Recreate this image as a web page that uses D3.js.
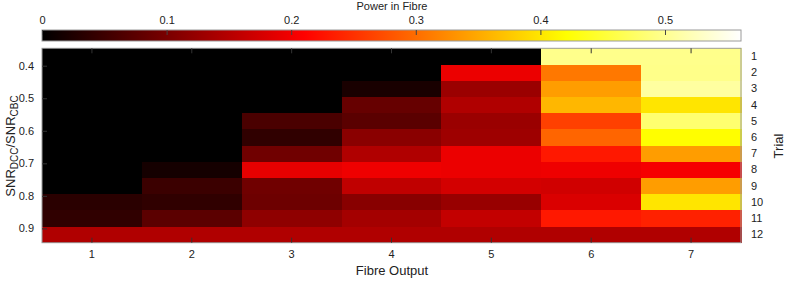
<!DOCTYPE html>
<html>
<head>
<meta charset="utf-8">
<script src="https://cdn.jsdelivr.net/npm/d3@7"></script>
<style>
  body { margin: 0; background: #fff; }
  svg text { font-family: "Liberation Sans", Arial, sans-serif; fill: #222; }
</style>
</head>
<body>
<svg id="heatmap" width="789" height="281"></svg>
<script>
// fibre outputs along x, trials along y
const fibres = [1, 2, 3, 4, 5, 6, 7];
const trials = [1, 2, 3, 4, 5, 6, 7, 8, 9, 10, 11, 12];
const snrTicks = [0.4, 0.5, 0.6, 0.7, 0.8, 0.9];
const snrDomain = [0.3465, 0.944];
const powerTicks = [0, 0.1, 0.2, 0.3, 0.4, 0.5];
const powerMax = 0.561;

// power in each fibre, one row per trial
const trial1 = [0, 0, 0, 0, 0, 0.497, 0.497];
const trial2 = [0, 0, 0, 0, 0.195, 0.309, 0.496];
const trial3 = [0, 0, 0, 0.021, 0.128, 0.34, 0.509];
const trial4 = [0, 0, 0, 0.084, 0.145, 0.361, 0.399];
const trial5 = [0, 0, 0.061, 0.074, 0.127, 0.263, 0.482];
const trial6 = [0, 0, 0.04, 0.114, 0.13, 0.294, 0.42];
const trial7 = [0, 0, 0.092, 0.145, 0.195, 0.23, 0.34];
const trial8 = [0, 0.017, 0.19, 0.197, 0.195, 0.197, 0.203];
const trial9 = [0, 0.049, 0.092, 0.158, 0.174, 0.172, 0.34];
const trial10 = [0.035, 0.04, 0.09, 0.112, 0.125, 0.18, 0.399];
const trial11 = [0.04, 0.075, 0.118, 0.135, 0.161, 0.23, 0.238];
const trial12 = [0.145, 0.145, 0.145, 0.145, 0.145, 0.145, 0.145];
const powers = [trial1, trial2, trial3, trial4, trial5, trial6, trial7, trial8, trial9, trial10, trial11, trial12];

const cells = [];
powers.forEach((row, i) => row.forEach((v, j) => cells.push({ trial: trials[i], fibre: fibres[j], value: v })));

const plot = { left: 42, right: 741, top: 48.3, bottom: 242.7 };
const bar = { top: 30, bottom: 41 };
const svg = d3.select('svg#heatmap');

// matlab "hot" colormap
const hot = d3.scaleLinear()
    .domain([0, 0.375 * powerMax, 0.75 * powerMax, powerMax])
    .range(['#000000', '#ff0000', '#ffff00', '#ffffff'])
    .clamp(true);

const xScale = d3.scaleBand()
    .domain(fibres)
    .range([plot.left, plot.right]);

const yScale = d3.scaleBand()
    .domain(trials)
    .range([plot.top, plot.bottom]);

const snrScale = d3.scaleLinear()
    .domain(snrDomain)
    .range([plot.top, plot.bottom]);

const powerScale = d3.scaleLinear()
    .domain([0, powerMax])
    .range([plot.left, plot.right]);

// cells
svg.append('g')
    .selectAll('rect')
    .data(cells)
    .enter()
    .append('rect')
    .attr('x', d => xScale(d.fibre))
    .attr('y', d => yScale(d.trial))
    .attr('width', xScale.bandwidth() + 0.5)
    .attr('height', yScale.bandwidth() + 0.5)
    .attr('fill', d => hot(d.value))
    .attr('shape-rendering', 'crispEdges');

svg.append('rect')
    .attr('x', plot.left)
    .attr('y', plot.top)
    .attr('width', plot.right - plot.left)
    .attr('height', plot.bottom - plot.top)
    .attr('fill', 'none')
    .attr('stroke', '#9a9a9a');

// bottom axis with ticks pointing into the plot
const xAxis = svg.append('g')
    .attr('transform', `translate(0, ${plot.bottom})`)
    .call(d3.axisBottom(xScale).tickSizeInner(-5).tickSizeOuter(0).tickPadding(8))
    .call(g => g.select('.domain').remove());
xAxis.selectAll('line').attr('stroke', '#333');
xAxis.selectAll('text').style('font-size', '11px');

svg.append('g')
    .attr('transform', `translate(0, ${plot.top})`)
    .call(d3.axisTop(xScale).tickSizeInner(-5).tickSizeOuter(0).tickFormat(''))
    .call(g => g.select('.domain').remove())
    .selectAll('line').attr('stroke', '#333');

// left snr axis
const yAxis = svg.append('g')
    .attr('transform', `translate(${plot.left}, 0)`)
    .call(d3.axisLeft(snrScale).tickValues(snrTicks).tickFormat(d3.format('.1f')).tickSizeInner(-5).tickSizeOuter(0).tickPadding(8))
    .call(g => g.select('.domain').remove());
yAxis.selectAll('line').attr('stroke', '#333');
yAxis.selectAll('text').style('font-size', '11px');

// right trial axis
const trialAxis = svg.append('g')
    .attr('transform', `translate(${plot.right}, 0)`)
    .call(d3.axisRight(yScale).tickSize(0).tickPadding(10))
    .call(g => g.select('.domain').remove());
trialAxis.selectAll('text').style('font-size', '11px');

// colour bar
const defs = svg.append('defs');
const grad = defs.append('linearGradient').attr('id', 'hotGrad');
d3.range(0, 1.0001, 0.125).forEach(t => {
    grad.append('stop')
        .attr('offset', `${t * 100}%`)
        .attr('stop-color', hot(t * powerMax));
});
svg.append('rect')
    .attr('x', plot.left)
    .attr('y', bar.top)
    .attr('width', plot.right - plot.left)
    .attr('height', bar.bottom - bar.top)
    .attr('fill', 'url(#hotGrad)')
    .attr('stroke', '#9a9a9a');

const barAxis = svg.append('g')
    .attr('transform', `translate(0, ${bar.top})`)
    .call(d3.axisTop(powerScale).tickValues(powerTicks).tickFormat(d => d === 0 ? '0' : d3.format('.1f')(d)).tickSizeInner(-5).tickSizeOuter(0).tickPadding(6))
    .call(g => g.select('.domain').remove());
barAxis.selectAll('line').attr('stroke', '#444');
barAxis.selectAll('text').style('font-size', '11px');

// labels
svg.append('text')
    .attr('x', 392)
    .attr('y', 10)
    .attr('text-anchor', 'middle')
    .style('font-size', '11px')
    .text('Power in Fibre');

svg.append('text')
    .attr('x', 392)
    .attr('y', 275)
    .attr('text-anchor', 'middle')
    .style('font-size', '13px')
    .text('Fibre Output');

svg.append('text')
    .attr('transform', 'translate(783, 146) rotate(-90)')
    .attr('text-anchor', 'middle')
    .style('font-size', '13px')
    .text('Trial');

const snrLabel = svg.append('text')
    .attr('transform', 'translate(15, 146) rotate(-90)')
    .attr('text-anchor', 'middle')
    .style('font-size', '13px');
snrLabel.append('tspan').text('SNR');
snrLabel.append('tspan').attr('dy', 3).style('font-size', '10px').text('DCC');
snrLabel.append('tspan').attr('dy', -3).text('/SNR');
snrLabel.append('tspan').attr('dy', 3).style('font-size', '10px').text('CBC');
</script>
</body>
</html>
